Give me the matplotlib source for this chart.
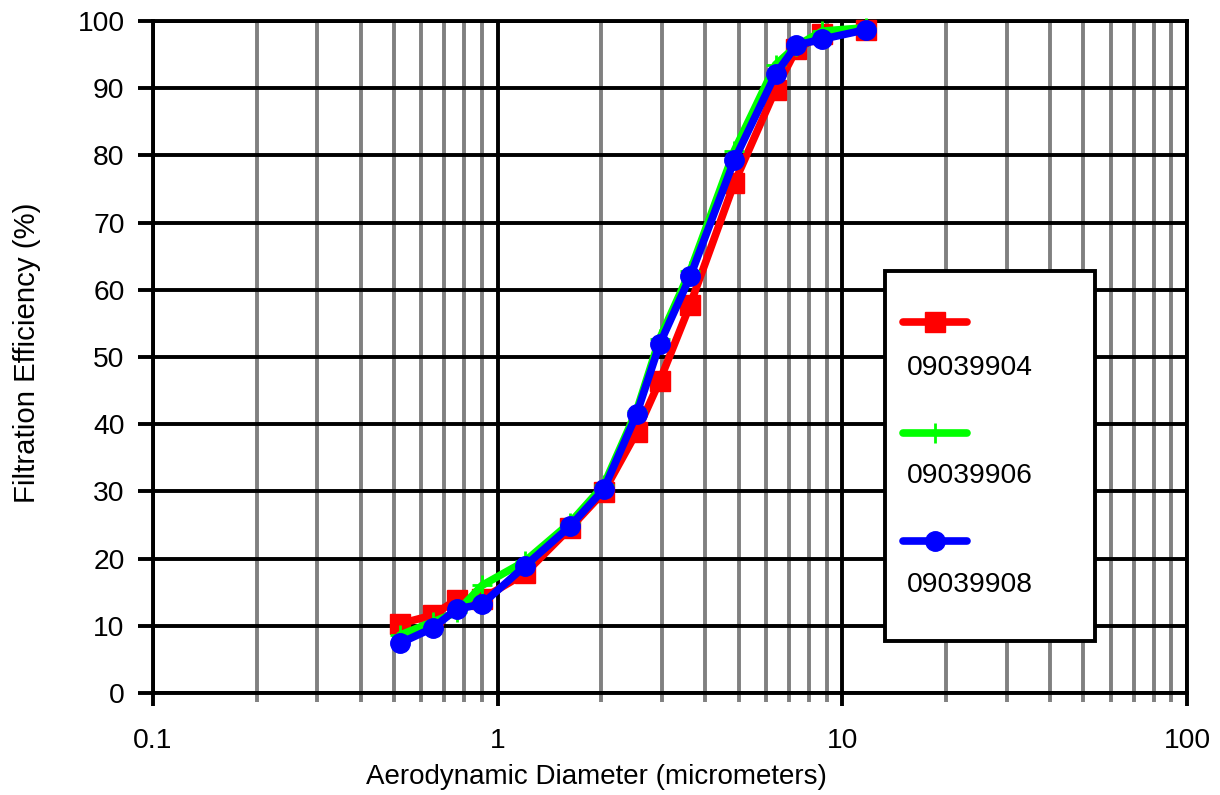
import matplotlib
matplotlib.use("Agg")
import matplotlib.pyplot as plt
from matplotlib.lines import Line2D
from matplotlib.patches import Rectangle
from matplotlib.ticker import LogLocator, FixedLocator, NullFormatter, FuncFormatter

plt.rcParams['font.family'] = ['Liberation Sans', 'DejaVu Sans']

# ---- data ----
diameter = [0.52, 0.65, 0.76, 0.90, 1.2, 1.62, 2.03, 2.53, 2.95, 3.62, 4.86, 6.4, 7.36, 8.75, 11.7]
eff_09039904 = [10.3, 11.6, 13.9, 14.0, 17.8, 24.5, 29.9, 38.8, 46.4, 57.8, 75.9, 89.8, 95.8, 98.0, 98.7]
eff_09039906 = [8.6, 10.6, 12.0, 16.0, 19.6, 25.3, 30.9, 42.0, 52.7, 62.8, 80.7, 93.5, 96.3, 98.5, 99.0]
eff_09039908 = [7.4, 9.7, 12.5, 13.2, 18.9, 24.8, 30.3, 41.5, 51.9, 62.0, 79.3, 92.1, 96.4, 97.3, 98.7]
series_names = ["09039904", "09039906", "09039908"]
x_ticks = [0.1, 1, 10, 100]
x_tick_labels = ["0.1", "1", "10", "100"]
y_ticks = list(range(0, 101, 10))

FS = 20.3
W, H = 1220, 795
fig = plt.figure(figsize=(W / 100, H / 100), dpi=100)
L, R, B, T = 153, 1187, 693, 21
ax = fig.add_axes([L / W, 1 - B / H, (R - L) / W, (B - T) / H])

ax.set_xscale('log')
ax.set_xlim(0.1, 100)
ax.set_ylim(0, 100)

# grid
lw_grid = 2.8
ax.xaxis.set_major_locator(FixedLocator(x_ticks))
ax.xaxis.set_major_formatter(FuncFormatter(lambda v, p: x_tick_labels[x_ticks.index(v)] if v in x_ticks else ""))
ax.xaxis.set_minor_locator(LogLocator(base=10, subs=range(2, 10)))
ax.xaxis.set_minor_formatter(NullFormatter())
ax.yaxis.set_major_locator(FixedLocator(y_ticks))
ax.set_axisbelow(True)
ax.grid(which='major', axis='both', color='black', lw=lw_grid)
ax.grid(which='minor', axis='x', color='#808080', lw=lw_grid)

for s in ['left', 'bottom', 'right', 'top']:
    ax.spines[s].set_linewidth(lw_grid)
    ax.spines[s].set_color('black')

ax.tick_params(axis='y', which='major', direction='out', length=10.5, width=lw_grid,
               color='black', pad=10, labelsize=FS)
ax.tick_params(axis='x', which='major', direction='out', length=9, width=lw_grid,
               color='black', pad=16, labelsize=FS)
ax.tick_params(axis='x', which='minor', direction='out', length=6.5, width=lw_grid,
               color='#808080')

# data
lw = 5.5
ms = 14
ax.plot(diameter, eff_09039904, color='#FF0000', lw=lw, marker='s', markersize=ms,
        markeredgecolor='#FF0000', solid_capstyle='round', zorder=3, clip_on=False)
ax.plot(diameter, eff_09039906, color='#00FF00', lw=lw, marker='+', markersize=ms,
        markeredgewidth=2, markeredgecolor='#00FF00', solid_capstyle='round', zorder=4, clip_on=False)
ax.plot(diameter, eff_09039908, color='#0000FF', lw=lw, marker='o', markersize=ms,
        markeredgecolor='#0000FF', solid_capstyle='round', zorder=5, clip_on=False)

# axis labels
fig.text(596 / W, 1 - 777 / H, "Aerodynamic Diameter (micrometers)", ha='center', va='center', fontsize=20)
fig.text(27.5 / W, 1 - 353 / H, "Filtration Efficiency (%)", ha='center', va='center', rotation=90, fontsize=21.2)

# legend (Excel-style: handle above label)
fig.add_artist(Rectangle((885 / W, 1 - 641 / H), (1095 - 885) / W, (641 - 271) / H,
                         transform=fig.transFigure, facecolor='white', edgecolor='black',
                         lw=lw_grid, zorder=6))
colors = ['#FF0000', '#00FF00', '#0000FF']
markers = ['s', '+', 'o']
handle_y = [322, 433, 541]
text_y = [368, 476, 585]
for name, c, m, hy, ty in zip(series_names, colors, markers, handle_y, text_y):
    fig.add_artist(Line2D([903 / W, 967 / W], [1 - hy / H, 1 - hy / H], transform=fig.transFigure,
                          color=c, lw=lw, solid_capstyle='round', zorder=7))
    fig.add_artist(Line2D([935 / W], [1 - hy / H], transform=fig.transFigure, color=c,
                          marker=m, markersize=ms, markeredgewidth=2 if m == '+' else 1,
                          markeredgecolor=c, linestyle='none', zorder=8))
    fig.text(907 / W, 1 - ty / H, name, ha='left', va='center', fontsize=FS, zorder=9)

fig.savefig("out.png", dpi=100)
